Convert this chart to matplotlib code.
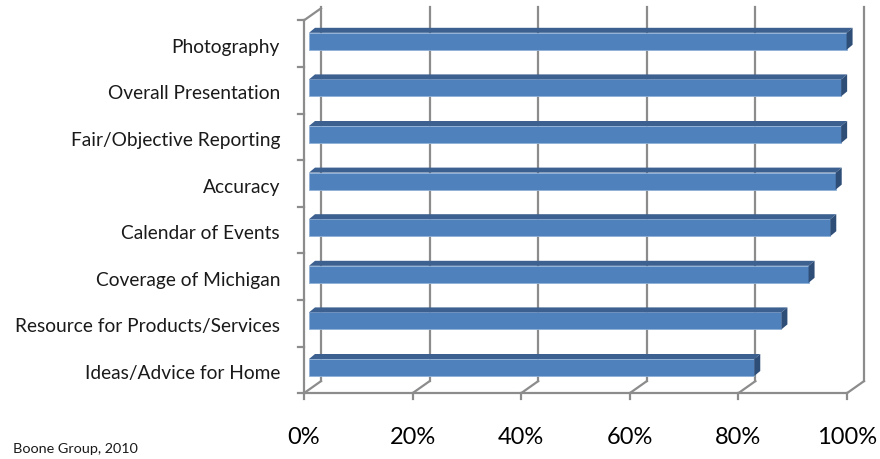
import matplotlib
matplotlib.use("Agg")
import matplotlib.pyplot as plt
from matplotlib.patches import Polygon
import numpy as np

categories = ["Ideas/Advice for Home", "Resource for Products/Services",
              "Coverage of Michigan", "Calendar of Events", "Accuracy",
              "Fair/Objective Reporting", "Overall Presentation", "Photography"]
values = [82, 87, 92, 96, 97, 98, 98, 99]
xticks = [0, 20, 40, 60, 80, 100]
xticklabels = ["0%", "20%", "40%", "60%", "80%", "100%"]

W, H = 880, 459
fig = plt.figure(figsize=(W / 100, H / 100), dpi=100)
ax = fig.add_axes([0, 0, 1, 1])

# pixel mapping: x px = 304 + v*5.43 ; y px (from top) = 367.5 - 46.6*i
sx, x0 = 5.43, 304
sy, y0 = 46.6, 367.5
ax.set_xlim(-x0 / sx, (W - x0) / sx)
ax.set_ylim((y0 - H) / sy, y0 / sy)
ax.axis("off")

def px(p):  # horizontal pixels -> data units
    return p / sx

def py(p):  # vertical pixels -> data units
    return p / sy

grid = "#8c8c8c"
lw = 1.6
n = len(categories)
floor = -0.55
top = floor + n
ddx, ddy = px(17), py(12)   # depth of the floor / walls

# back wall gridlines and floor diagonals
for t in xticks:
    ax.plot([t + ddx, t + ddx], [floor + ddy, top + ddy + py(1)], color=grid, lw=lw, zorder=1)
    ax.plot([t, t + ddx], [floor, floor + ddy], color=grid, lw=lw, zorder=1)
    ax.plot([t, t], [floor, floor - py(6)], color=grid, lw=lw, zorder=1)

# front baseline
ax.plot([0, 100], [floor, floor], color=grid, lw=lw, zorder=1)

# left wall
ax.plot([0, 0], [floor, top], color=grid, lw=lw, zorder=1)
ax.plot([0, ddx], [top, top + ddy], color=grid, lw=lw, zorder=1)
for k in range(n + 1):
    ax.plot([-px(6), 0], [floor + k, floor + k], color=grid, lw=lw, zorder=1)

# bars (front face + top + right side)
front = "#4f81bd"
top_c = "#3c6090"
side_c = "#2e4e78"
bh = py(17)
bx0 = px(5)
bdx, bdy = px(6), py(5)
y = np.arange(n)
ax.barh(y, values, left=bx0, height=bh, color=front, edgecolor="#8fb0d8",
        linewidth=0.6, zorder=3)
for yi, v in zip(y, values):
    yt = yi + bh / 2
    yb = yi - bh / 2
    x1 = bx0 + v
    ax.add_patch(Polygon([(bx0, yt), (x1, yt), (x1 + bdx, yt + bdy), (bx0 + bdx, yt + bdy)],
                         closed=True, facecolor=top_c, edgecolor="none", zorder=3))
    ax.add_patch(Polygon([(x1, yb), (x1, yt), (x1 + bdx, yt + bdy), (x1 + bdx, yb + bdy)],
                         closed=True, facecolor=side_c, edgecolor="none", zorder=3))

font = "Lato"
for yi, name in zip(y, categories):
    ax.text(-px(24), yi - py(6), name, ha="right", va="center", fontsize=13.8,
            family=font, color="#1a1a1a")

for t, lab in zip(xticks, xticklabels):
    ax.text(t, (y0 - 437) / sy, lab, ha="center", va="center", fontsize=17,
            family=font, color="black")

ax.text(-x0 / sx + px(13), (y0 - 449) / sy, "Boone Group, 2010", ha="left",
        va="center", fontsize=10.4, family=font, color="#1a1a1a")

fig.savefig("out.png", dpi=100)
